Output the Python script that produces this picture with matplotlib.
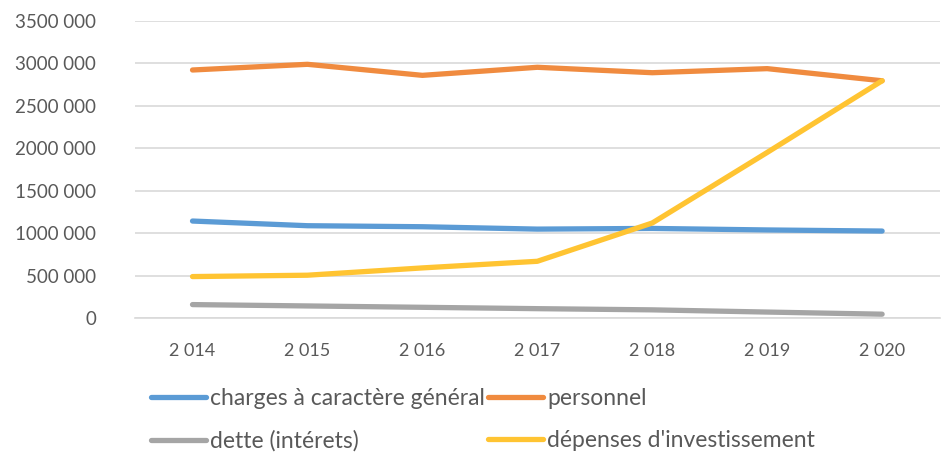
import matplotlib.pyplot as plt

# Données
years = ["2 014", "2 015", "2 016", "2 017", "2 018", "2 019", "2 020"]
charges = [1142000, 1087000, 1075000, 1047000, 1055000, 1037000, 1024000]
personnel = [2921000, 2988000, 2858000, 2953000, 2889000, 2937000, 2794000]
dette = [158000, 142000, 126000, 110000, 96000, 70000, 45000]
investissement = [488000, 504000, 590000, 668000, 1119000, 1950000, 2794000]
y_ticks = [0, 500000, 1000000, 1500000, 2000000, 2500000, 3000000, 3500000]
y_labels = ["0", "500 000", "1000 000", "1500 000", "2000 000", "2500 000", "3000 000", "3500 000"]

plt.rcParams['font.family'] = ['Lato', 'DejaVu Sans']
txt = '#595959'

fig = plt.figure(figsize=(9.51, 4.53), dpi=100)
ax = fig.add_axes([0.142, 0.298, 0.846, 0.656])

x = range(len(years))
lw = 3.8
l1, = ax.plot(x, charges, color='#5B9BD5', lw=lw, label="charges à caractère général", solid_capstyle='round')
l2, = ax.plot(x, personnel, color='#F08B3F', lw=lw, label="personnel", solid_capstyle='round')
l3, = ax.plot(x, dette, color='#A5A5A5', lw=lw, label="dette (intérets)", solid_capstyle='round')
l4, = ax.plot(x, investissement, color='#FFC432', lw=lw, label="dépenses d'investissement", solid_capstyle='round')

ax.set_xlim(-0.5, len(years) - 0.5)
ax.set_ylim(0, 3500000)
ax.set_xticks(list(x))
ax.set_xticklabels(years)
ax.set_yticks(y_ticks)
ax.set_yticklabels(y_labels)
ax.tick_params(length=0, labelsize=13.5, colors=txt)
ax.tick_params(axis='x', pad=18, labelsize=13)
ax.tick_params(axis='y', pad=28)
ax.grid(axis='y', color='#D9D9D9', lw=1.2)
ax.set_axisbelow(True)
for s in ['top', 'right', 'left']:
    ax.spines[s].set_visible(False)
ax.spines['bottom'].set_color('#D9D9D9')
ax.spines['bottom'].set_linewidth(1.2)

leg = fig.legend(handles=[l1, l3, l2, l4], loc='upper left', bbox_to_anchor=(0.137, 0.19),
                 ncol=2, frameon=False, fontsize=16.5, handlelength=2.4, handletextpad=0.2,
                 columnspacing=0.1, labelspacing=0.95, labelcolor=txt)

plt.savefig("out.png", dpi=100)
